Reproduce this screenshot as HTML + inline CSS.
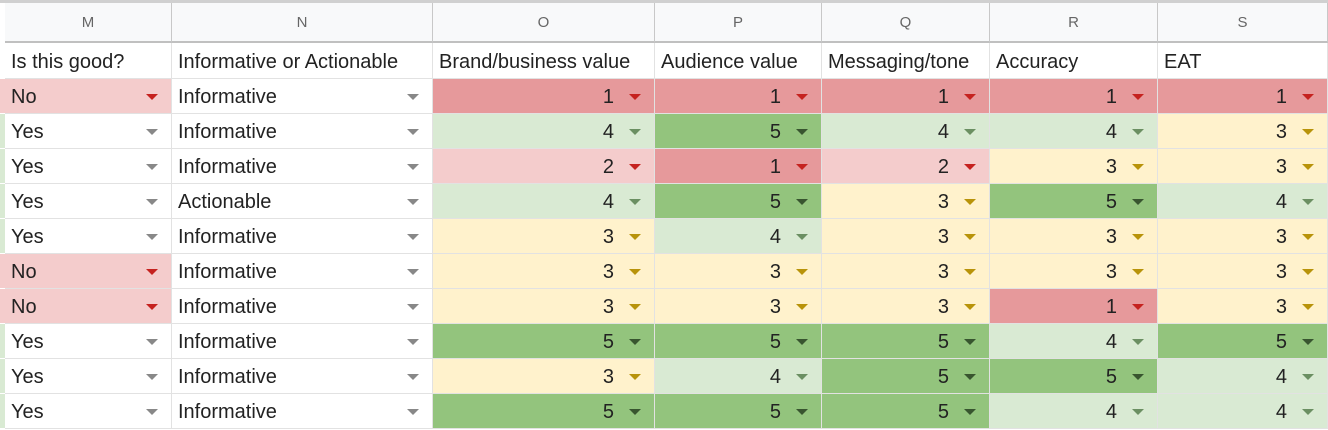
<!DOCTYPE html>
<html><head><meta charset="utf-8"><style>
body{margin:0;width:1328px;height:430px;overflow:hidden;background:#fff;font-family:"Liberation Sans",Arial,sans-serif;}
#g{position:absolute;left:0;top:0;width:1328px;height:430px;}
.c{position:absolute;box-sizing:border-box;border-right:1px solid #e2e2e2;border-bottom:1px solid #e2e2e2;font-size:20px;color:#222;white-space:nowrap;overflow:hidden;}
.h{background:#f8f9fa;color:#666;font-size:15px;text-align:center;line-height:40px;border-right:1px solid #c8c8c8;border-bottom:2px solid #c0c0c0;}
.arr{position:absolute;top:15px;width:0;height:0;border-left:6px solid transparent;border-right:6px solid transparent;border-top:6px solid #888;}
</style></head><body>
<div id="g"></div>
<script>
const cols=["M","N","O","P","Q","R","S"];
const headers=["Is this good?","Informative or Actionable","Brand/business value","Audience value","Messaging/tone","Accuracy","EAT"];
const good=["No","Yes","Yes","Yes","Yes","No","No","Yes","Yes","Yes"];
const kind=["Informative","Informative","Informative","Actionable","Informative","Informative","Informative","Informative","Informative","Informative"];
const brand=[1,4,2,4,3,3,3,5,3,5];
const audience=[1,5,1,5,4,3,3,5,4,5];
const messaging=[1,4,2,3,3,3,3,5,5,5];
const accuracy=[1,4,3,5,3,3,1,4,5,4];
const eat=[1,3,3,4,3,3,3,5,4,4];
const xs=[5,172,433,655,822,990,1158,1328];
const bg={1:"#e6999b",2:"#f4cccc",3:"#fff2cc",4:"#d9ead3",5:"#93c47d"};
const ac={1:"#c5221f",2:"#c5221f",3:"#b8930a",4:"#6b8f62",5:"#38552f"};
const g=document.getElementById('g');
function cell(x,y,w,h,cls){const d=document.createElement('div');d.className='c '+cls;d.style.left=x+'px';d.style.top=y+'px';d.style.width=w+'px';d.style.height=h+'px';g.appendChild(d);return d;}
const top0=document.createElement('div');top0.style.cssText='position:absolute;left:0;top:0;width:1328px;height:3px;background:#d0d0d0';g.appendChild(top0);


for(let i=0;i<7;i++){
 const h=cell(xs[i],3,xs[i+1]-xs[i],40,'h');h.textContent=cols[i];
 
 
 const t=cell(xs[i],43,xs[i+1]-xs[i],36,'');t.textContent=headers[i];t.style.padding='8px 0 0 6px';
 
 
}
const numCols=[brand,audience,messaging,accuracy,eat];
for(let r=0;r<10;r++){
 const y=79+r*35;
 const strip=document.createElement('div');strip.style.cssText=`position:absolute;left:0;top:${y}px;width:5px;height:34px;background:${good[r]==="No"?"#f4cccc":"#d9ead3"}`;g.appendChild(strip);
 
 
 for(let i=0;i<7;i++){
  const w=xs[i+1]-xs[i];const c=cell(xs[i],y,w,35,'');
  
  
  const a=document.createElement('div');a.className='arr';a.style.left=(w-26)+'px';
  let txt,color='#888';
  if(i===0){txt=good[r];if(txt==="No"){c.style.background="#f4cccc";color="#c5221f";}c.style.padding='7px 0 0 6px';}
  else if(i===1){txt=kind[r];c.style.padding='7px 0 0 6px';}
  else{const v=numCols[i-2][r];txt=v;c.style.background=bg[v];color=ac[v];c.style.textAlign='right';c.style.padding='7px 40px 0 0';}
  c.textContent=txt;a.style.borderTopColor=color;c.appendChild(a);
  
  
 }
}
</script>
</body></html>
